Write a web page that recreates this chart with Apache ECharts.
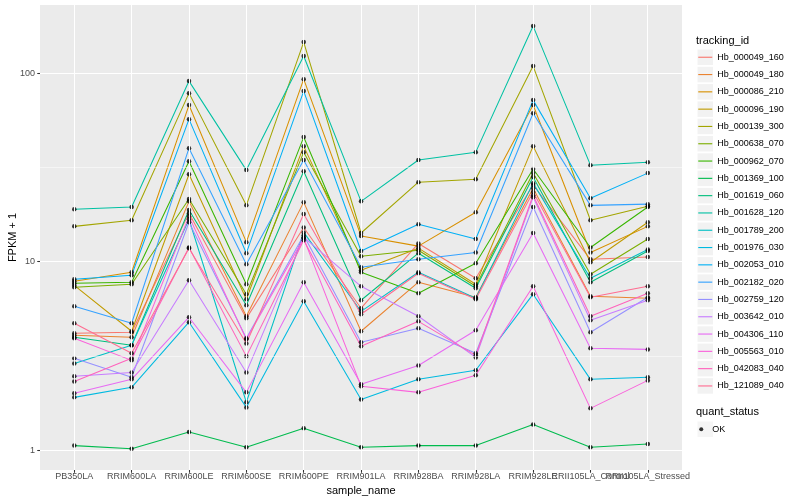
<!DOCTYPE html>
<html><head><meta charset="utf-8">
<script src="https://cdn.jsdelivr.net/npm/echarts@6/dist/echarts.min.js"></script>
<style>html,body{margin:0;padding:0;background:#fff}#c{width:800px;height:500px}</style>
</head><body><div id="c"></div>
<script>
const categories = ['PB350LA','RRIM600LA','RRIM600LE','RRIM600SE','RRIM600PE','RRIM901LA','RRIM928BA','RRIM928LA','RRIM928LE','RRII105LA_Control','RRII105LA_Stressed'];
const trackingIds = ['Hb_000049_160','Hb_000049_180','Hb_000086_210','Hb_000096_190','Hb_000139_300','Hb_000638_070','Hb_000962_070','Hb_001369_100','Hb_001619_060','Hb_001628_120','Hb_001789_200','Hb_001976_030','Hb_002053_010','Hb_002182_020','Hb_002759_120','Hb_003642_010','Hb_004306_110','Hb_005563_010','Hb_042083_040','Hb_121089_040'];
const colors = ['#F8766D','#EA8331','#D89000','#C09B00','#A3A500','#7CAE00','#39B600','#00BB4E','#00BF7D','#00C1A3','#00BFC4','#00BAE0','#00B0F6','#35A2FF','#9590FF','#C77CFF','#E76BF3','#FA62DB','#FF62BC','#FF6C91'];

const Hb_000049_160 = [4.18, 4.23, 18.1, 5.01, 15.2, 5.67, 12.5, 8.18, 25.5, 10.3, 10.6];
const Hb_000049_180 = [4.08, 3.98, 20.9, 5.14, 20.7, 4.28, 7.79, 6.48, 24.5, 6.56, 6.40];
const Hb_000086_210 = [7.88, 8.80, 67.7, 12.7, 92.9, 13.7, 12.1, 18.3, 67.7, 11.2, 15.4];
const Hb_000096_190 = [7.50, 4.28, 29.1, 6.33, 41.0, 9.02, 11.8, 7.60, 41.0, 9.94, 16.2];
const Hb_000139_300 = [15.4, 16.6, 78.3, 19.9, 146, 14.2, 26.4, 27.4, 108.9, 16.6, 19.7];
const Hb_000638_070 = [7.32, 7.60, 21.5, 6.73, 38.1, 10.7, 11.5, 7.41, 29.5, 8.58, 13.2];
const Hb_000962_070 = [7.69, 7.79, 34.1, 7.60, 45.8, 8.80, 6.81, 9.82, 31.0, 11.9, 19.5];
const Hb_001369_100 = [1.06, 1.02, 1.25, 1.04, 1.31, 1.04, 1.06, 1.06, 1.37, 1.04, 1.08];
const Hb_001619_060 = [3.98, 3.61, 18.8, 5.88, 30.2, 6.25, 11.1, 7.24, 28.1, 7.79, 11.4];
const Hb_001628_120 = [19.0, 19.5, 90.7, 30.6, 123.1, 20.9, 34.6, 38.1, 177.5, 32.5, 33.7];
const Hb_001789_200 = [2.89, 3.61, 16.8, 1.80, 14.3, 5.46, 8.80, 6.40, 26.1, 8.18, 11.6];
const Hb_001976_030 = [1.91, 2.16, 4.78, 1.69, 6.17, 1.86, 2.38, 2.66, 6.73, 2.38, 2.44];
const Hb_002053_010 = [8.08, 8.48, 57.0, 11.1, 80.3, 11.4, 15.8, 13.2, 71.9, 21.7, 29.5];
const Hb_002182_020 = [5.81, 4.72, 40.0, 9.70, 34.6, 9.35, 10.3, 11.2, 61.3, 19.9, 20.2];
const Hb_002759_120 = [3.08, 2.44, 16.2, 3.93, 13.8, 3.74, 4.44, 3.27, 19.5, 4.23, 6.48];
const Hb_003642_010 = [2.47, 2.59, 7.98, 2.59, 13.5, 7.41, 5.14, 3.11, 22.0, 4.89, 6.25];
const Hb_004306_110 = [2.01, 2.38, 5.08, 2.03, 7.79, 2.24, 2.82, 4.33, 14.2, 3.48, 3.43];
const Hb_005563_010 = [3.93, 3.00, 17.4, 3.88, 13.3, 2.19, 2.03, 2.50, 7.41, 1.67, 2.35];
const Hb_042083_040 = [2.32, 3.08, 11.9, 3.15, 13.0, 3.56, 4.83, 3.19, 22.5, 5.14, 6.81];
const Hb_121089_040 = [4.72, 3.27, 11.8, 3.69, 17.9, 5.27, 8.69, 6.33, 23.4, 6.48, 7.41];

const yTicks = [1, 10, 100];
const yMinorTicks = [3.1623, 31.623];

const seriesValues = [Hb_000049_160, Hb_000049_180, Hb_000086_210, Hb_000096_190, Hb_000139_300, Hb_000638_070, Hb_000962_070, Hb_001369_100, Hb_001619_060, Hb_001628_120, Hb_001789_200, Hb_001976_030, Hb_002053_010, Hb_002182_020, Hb_002759_120, Hb_003642_010, Hb_004306_110, Hb_005563_010, Hb_042083_040, Hb_121089_040];

const FONT = 'Liberation Sans, Arial, Helvetica, sans-serif';
const yMin = 0.787, yMax = 229.6;

const chart = echarts.init(document.getElementById('c'), null, {renderer: 'canvas'});

const lineSeries = trackingIds.map((id, i) => ({
  name: id, type: 'line', xAxisIndex: 1, yAxisIndex: 1,
  data: seriesValues[i], symbol: 'none', showSymbol: false,
  lineStyle: {color: colors[i], width: 1.05},
  itemStyle: {color: colors[i], borderWidth: 0},
  z: 2, silent: true, animation: false
}));

const okPoints = [];
seriesValues.forEach(arr => arr.forEach((v, j) => okPoints.push([j, v])));

const option = {
  animation: false,
  backgroundColor: '#FFFFFF',
  textStyle: {fontFamily: FONT},
  title: [
    {text: 'tracking_id', left: 696, top: 35, padding: 0, textStyle: {fontSize: 11, fontWeight: 'normal', color: '#000', fontFamily: FONT}},
    {text: 'quant_status', left: 696, top: 406, padding: 0, textStyle: {fontSize: 11, fontWeight: 'normal', color: '#000', fontFamily: FONT}}
  ],
  grid: [
    {left: 40, right: 118, top: 5, bottom: 30, show: true, backgroundColor: '#EBEBEB', borderWidth: 0, containLabel: false, outerBoundsMode: 'none'},
    {left: 45.6, right: 123.5, top: 5, bottom: 30, show: false, containLabel: false, outerBoundsMode: 'none'}
  ],
  xAxis: [
    {gridIndex: 0, type: 'value', min: -0.6, max: 10.6, show: false},
    {gridIndex: 1, type: 'category', data: categories, boundaryGap: true,
     axisLine: {show: false},
     axisTick: {show: true, alignWithLabel: true, length: 2.75, lineStyle: {color: '#333333', width: 1.07}},
     axisLabel: {interval: 0, hideOverlap: false, color: '#4D4D4D', fontSize: 9, fontFamily: FONT, margin: 2},
     splitLine: {show: false},
     name: 'sample_name', nameLocation: 'middle', nameGap: 9,
     nameTextStyle: {fontSize: 11, color: '#000', fontFamily: FONT}}
  ],
  yAxis: [
    {gridIndex: 0, type: 'log', logBase: 10, min: yMin, max: yMax,
     axisLine: {show: false, onZero: false},
     axisTick: {show: true, length: 2.75, customValues: yTicks, lineStyle: {color: '#333333', width: 1.07}},
     axisLabel: {color: '#4D4D4D', fontSize: 9, fontFamily: FONT, margin: 5, customValues: yTicks,
       formatter: v => { const l = Math.log10(v); return Math.abs(l - Math.round(l)) < 1e-6 ? String(Math.round(v)) : ''; }},
     splitLine: {show: true, lineStyle: {color: '#FFFFFF', width: 1.07}},
     name: 'FPKM + 1', nameLocation: 'middle', nameGap: 22, nameRotate: 90, nameMoveOverlap: false,
     nameTextStyle: {fontSize: 11, color: '#000', fontFamily: FONT}},
    {gridIndex: 1, type: 'log', logBase: 10, min: yMin, max: yMax, show: false}
  ],
  legend: [
    {data: trackingIds, orient: 'vertical', left: 697.5, top: 49.5, padding: 0,
     itemWidth: 15.5, itemHeight: 15.5, itemGap: 1.8, icon: 'rect', selectedMode: false,
     itemStyle: {color: '#F2F2F2', borderWidth: 0},
     textStyle: {color: 'rgba(0,0,0,0)', fontSize: 9, fontFamily: FONT, lineHeight: 15.5}},
    {data: trackingIds, orient: 'vertical', left: 698.25, top: 49.5, padding: 0,
     itemWidth: 14, itemHeight: 15.5, itemGap: 1.8, icon: 'path://M0,0H100V8H0Z', selectedMode: false,
     itemStyle: {borderWidth: 0},
     textStyle: {color: '#000', fontSize: 9, fontFamily: FONT, lineHeight: 15.5}},
    {data: ['OK'], orient: 'vertical', left: 697.5, top: 421.5, padding: 0,
     itemWidth: 15.5, itemHeight: 15.5, icon: 'rect', selectedMode: false,
     itemStyle: {color: '#F2F2F2', borderWidth: 0},
     textStyle: {color: 'rgba(0,0,0,0)', fontSize: 9, fontFamily: FONT, lineHeight: 15.5}},
    {data: ['OK'], orient: 'vertical', left: 699.25, top: 421.5, padding: 0,
     itemWidth: 12, itemHeight: 4, icon: 'circle', selectedMode: false, symbolKeepAspect: true,
     itemStyle: {color: '#000', borderWidth: 0},
     textStyle: {color: '#000', fontSize: 9, fontFamily: FONT, lineHeight: 15.5}}
  ],
  series: [
    {type: 'line', name: '__grid', xAxisIndex: 0, yAxisIndex: 0, data: [], silent: true, z: 1,
     markLine: {silent: true, symbol: ['none', 'none'], label: {show: false}, animation: false,
       lineStyle: {color: '#FFFFFF', type: 'solid', width: 1.07},
       emphasis: {disabled: true},
       data: categories.map((c, i) => ({xAxis: i, lineStyle: {color: '#FFFFFF', type: 'solid', width: 1.07}}))
         .concat(yMinorTicks.map(v => ({yAxis: v, lineStyle: {color: '#FFFFFF', type: 'solid', width: 0.53}})))}}
  ].concat(lineSeries).concat([
    {name: 'OK', type: 'scatter', xAxisIndex: 1, yAxisIndex: 1, data: okPoints,
     symbol: 'circle', symbolSize: 4.5, itemStyle: {color: '#000000', borderWidth: 0}, z: 3, silent: true, animation: false}
  ])
};
chart.setOption(option);
</script></body></html>
